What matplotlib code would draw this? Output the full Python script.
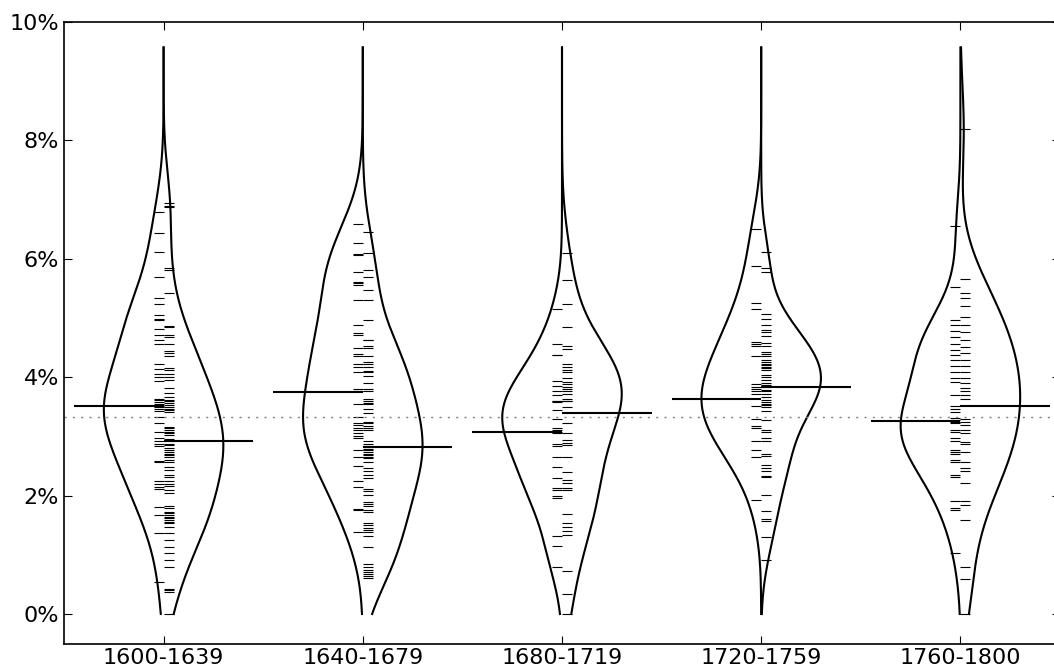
import numpy as np
import matplotlib
matplotlib.use("Agg")
import matplotlib.pyplot as plt
from matplotlib.ticker import PercentFormatter, MultipleLocator

periods = ["1600-1639", "1640-1679", "1680-1719", "1720-1759", "1760-1800"]

# shares in percent, left half and right half of each bean
left_1600 = [6.79, 6.44, 6.12, 5.69, 5.34, 5.23, 5.05, 4.99, 4.97, 4.81, 4.71, 4.63, 4.56,
             4.23, 4.14, 4.05, 4.01, 3.94, 3.64, 3.62, 3.58, 3.55, 3.52, 3.49, 3.46, 3.43,
             3.33, 3.22, 3.07, 2.98, 2.93, 2.88, 2.83, 2.58, 2.56, 2.24, 2.20, 2.15, 2.11,
             1.80, 1.67, 1.37, 0.54]
right_1600 = [6.94, 6.90, 6.87, 5.84, 5.81, 5.42, 4.87, 4.85, 4.71, 4.68, 4.56, 4.45, 4.41,
              4.36, 4.15, 4.12, 4.05, 4.01, 3.95, 3.81, 3.73, 3.67, 3.61, 3.59, 3.56, 3.53,
              3.50, 3.47, 3.45, 3.42, 3.16, 3.14, 3.11, 3.08, 3.05, 3.02, 2.95, 2.92, 2.88,
              2.85, 2.80, 2.77, 2.74, 2.71, 2.69, 2.66, 2.60, 2.56, 2.49, 2.43, 2.35, 2.32,
              2.24, 2.20, 2.16, 2.09, 2.04, 1.82, 1.79, 1.73, 1.70, 1.67, 1.64, 1.62, 1.59,
              1.56, 1.53, 1.47, 1.36, 1.25, 1.14, 1.03, 0.91, 0.80, 0.43, 0.41, 0.38, 0.00]

left_1640 = [6.59, 6.26, 6.08, 6.06, 5.77, 5.61, 5.59, 5.56, 5.30, 4.88, 4.75, 4.71, 4.50,
             4.39, 4.36, 4.23, 4.18, 4.09, 3.80, 3.76, 3.55, 3.33, 3.23, 3.19, 3.14, 3.11,
             3.05, 3.00, 2.97, 2.77, 2.65, 2.50, 2.25, 2.14, 1.77, 1.75, 1.39]
right_1640 = [6.45, 6.09, 5.81, 5.69, 5.47, 5.30, 4.97, 4.63, 4.62, 4.52, 4.49, 4.35, 4.26,
              4.22, 4.18, 4.11, 4.09, 4.02, 3.91, 3.80, 3.77, 3.63, 3.60, 3.57, 3.55, 3.46,
              3.39, 3.25, 3.22, 3.18, 3.14, 3.11, 2.93, 2.88, 2.84, 2.82, 2.79, 2.77, 2.74,
              2.71, 2.69, 2.66, 2.63, 2.57, 2.46, 2.42, 2.35, 2.29, 2.11, 2.08, 2.01, 1.90,
              1.86, 1.82, 1.76, 1.73, 1.53, 1.50, 1.46, 1.42, 1.39, 1.32, 1.14, 0.84, 0.80,
              0.75, 0.71, 0.68, 0.64, 0.60]

left_1680 = [5.15, 4.56, 4.38, 4.37, 3.94, 3.85, 3.76, 3.70, 3.60, 3.58, 3.59, 3.45, 3.29,
             3.14, 3.11, 3.08, 3.05, 2.88, 2.84, 2.65, 2.49, 2.29, 2.12, 2.09, 1.99, 1.96,
             1.32, 1.15, 0.80]
right_1680 = [6.10, 5.65, 5.23, 4.84, 4.53, 4.48, 4.23, 4.18, 4.12, 4.08, 3.98, 3.92, 3.89,
              3.84, 3.80, 3.76, 3.72, 3.64, 3.60, 3.59, 3.49, 3.22, 3.05, 2.94, 2.89, 2.85,
              2.65, 2.40, 2.26, 2.21, 2.12, 2.09, 1.69, 1.53, 1.47, 1.40, 1.33, 0.73, 0.33,
              0.00]

left_1720 = [6.50, 5.88, 5.26, 5.16, 4.60, 4.56, 4.52, 4.36, 3.88, 3.83, 3.80, 3.76, 3.71,
             3.51, 3.29, 3.18, 3.15, 2.92, 2.77, 2.66, 1.93]
right_1720 = [6.11, 5.85, 5.77, 5.07, 4.98, 4.88, 4.80, 4.77, 4.70, 4.57, 4.52, 4.43, 4.40,
              4.36, 4.29, 4.26, 4.23, 4.21, 4.18, 4.15, 4.12, 4.04, 4.01, 3.95, 3.90, 3.87,
              3.83, 3.79, 3.76, 3.72, 3.67, 3.62, 3.58, 3.54, 3.53, 3.50, 3.43, 3.27, 3.11,
              3.08, 2.98, 2.92, 2.70, 2.67, 2.51, 2.46, 2.42, 2.33, 2.31, 2.01, 1.74, 1.60,
              1.57, 1.30, 0.92]

left_1760 = [6.55, 5.52, 4.97, 4.88, 4.78, 4.68, 4.56, 4.46, 4.38, 4.29, 4.19, 4.09, 3.99,
             3.92, 3.70, 3.51, 3.47, 3.42, 3.31, 3.28, 3.25, 3.22, 3.11, 3.08, 2.97, 2.93,
             2.77, 2.74, 2.71, 2.60, 2.57, 2.35, 2.31, 1.91, 1.79, 1.75, 1.03]
right_1760 = [8.19, 5.66, 5.42, 5.34, 5.20, 5.02, 4.88, 4.76, 4.63, 4.51, 4.41, 4.29, 4.19,
              4.09, 3.99, 3.91, 3.81, 3.76, 3.70, 3.64, 3.30, 3.25, 3.19, 3.11, 3.05, 2.91,
              2.87, 2.74, 2.56, 2.46, 2.42, 2.21, 1.91, 1.84, 1.59, 0.80, 0.59, 0.00]

left_means = [3.51, 3.75, 3.07, 3.63, 3.26]
right_means = [2.92, 2.82, 3.40, 3.83, 3.51]
even_share = 100 / 30

left_data = [left_1600, left_1640, left_1680, left_1720, left_1760]
right_data = [right_1600, right_1640, right_1680, right_1720, right_1760]


def kde(values, grid):
    values = np.asarray(values)
    bw = values.std(ddof=1) * len(values) ** (-0.2)
    z = (grid[:, None] - values[None, :]) / bw
    return np.exp(-0.5 * z ** 2).sum(axis=1)


fig = plt.figure(figsize=(10.54, 6.69), dpi=100)
ax = fig.add_axes([64 / 1054, 25.4 / 669, 996 / 1054, 621.6 / 669])

grid = np.linspace(0, 9.57, 300)
half_width = 0.3
for i in range(len(periods)):
    pos = i + 1
    for vals, side in ((left_data[i], -1), (right_data[i], 1)):
        dens = kde(vals, grid)
        dens = dens / dens.max() * half_width
        ax.plot(pos + side * dens, grid / 100, color="k", lw=1.5)
        ax.hlines(np.array(vals) / 100, pos, pos + side * 0.05, color="k", lw=0.8)
    ax.hlines(left_means[i] / 100, pos - 0.45, pos, color="k", lw=1.5)
    ax.hlines(right_means[i] / 100, pos, pos + 0.45, color="k", lw=1.5)

ax.axhline(even_share / 100, color="gray", linestyle=(0, (1.5, 4.5)), lw=1)

ax.set_xlim(0.5, 5.5)
ax.set_ylim(-0.005, 0.10)
ax.set_xticks(range(1, len(periods) + 1))
ax.set_xticklabels(periods)
ax.yaxis.set_major_locator(MultipleLocator(0.02))
ax.yaxis.set_major_formatter(PercentFormatter(xmax=1, decimals=0))
ax.tick_params(direction="in", top=True, right=True, length=6, labelsize=16)
for sp in ax.spines.values():
    sp.set_linewidth(1.2)

fig.savefig("out.png", dpi=100)
